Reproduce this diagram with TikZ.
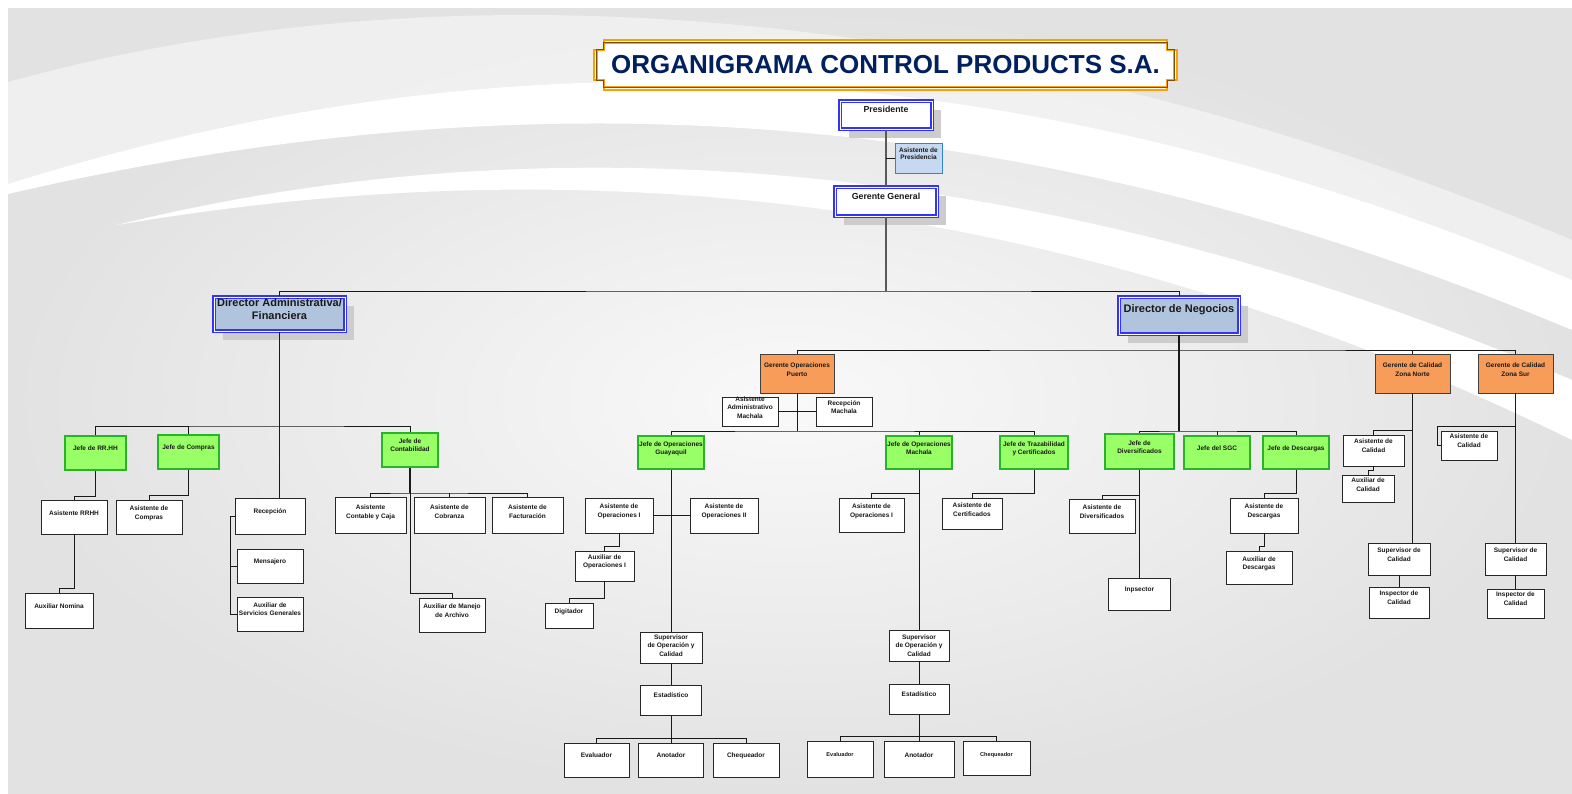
\documentclass[tikz,border=0pt]{standalone}
\usepackage{fontspec}
\setmainfont{Liberation Sans}
\usetikzlibrary{shadows}

\definecolor{navy}{RGB}{0,32,96}
\definecolor{framebrown}{RGB}{120,80,10}
\definecolor{frameorange}{RGB}{255,160,0}
\definecolor{topblue}{RGB}{51,51,255}
\definecolor{dirblue}{RGB}{176,196,222}
\definecolor{shadowgray}{RGB}{204,204,204}
\definecolor{jefegreen}{RGB}{153,255,102}
\definecolor{jefeborder}{RGB}{40,180,40}
\definecolor{gerorange}{RGB}{247,157,89}
\definecolor{asisblue}{RGB}{198,217,240}
\definecolor{asisborder}{RGB}{46,134,206}
\definecolor{bgin}{RGB}{249,249,249}
\definecolor{bgout}{RGB}{226,226,226}

\newcommand\fntbox{\fontsize{6.5}{8.3}\selectfont\bfseries}
\newcommand\fntasis{\fontsize{6.5}{7.4}\selectfont\bfseries}
\newcommand\fntpres{\fontsize{8.8}{10.5}\selectfont\bfseries}
\newcommand\fntdir{\fontsize{11}{13}\selectfont\bfseries}
\newcommand\fntsmall{\fontsize{5.6}{7}\selectfont\bfseries}
\newcommand\fnttitle{\fontsize{26}{30}\selectfont\bfseries}

\tikzset{
  orgbox/.style={rectangle, inner sep=0pt},
  sz/.style 2 args={minimum width=#1, minimum height=#2},
  wbox/.style={orgbox, fill=white, draw=black!85, line width=.8pt},
  gbox/.style={orgbox, fill=jefegreen, draw=jefeborder, line width=1.3pt},
  obox/.style={orgbox, fill=gerorange, draw=black!75, line width=.9pt},
  topbox/.style={orgbox, fill=white, draw=topblue, double=white, double distance=.8pt, line width=1.3pt,
    drop shadow={shadow xshift=9pt, shadow yshift=-9pt, fill=shadowgray, opacity=1}},
  dirbox/.style={topbox, fill=dirblue},
  asisbox/.style={orgbox, fill=asisblue, draw=asisborder, line width=1pt},
  lab/.style={anchor=north, inner sep=0pt, align=center, text=black!90},
  txt/.style 2 args={label={[lab, font=\fntbox, yshift=-#1pt]north:{#2}}},
  txta/.style 2 args={label={[lab, font=\fntasis, yshift=-#1pt]north:{#2}}},
  txtp/.style 2 args={label={[lab, font=\fntpres, yshift=-#1pt]north:{#2}}},
  txtd/.style 2 args={label={[lab, font=\fntdir, yshift=-#1pt]north:{#2}}},
  txts/.style 2 args={label={[lab, font=\fntsmall, yshift=-#1pt]north:{#2}}},
  link/.style={draw=black!90, line width=.9pt},
  thk/.style={draw=black!90, line width=1.8pt},
  gline/.style={draw=black!65, line width=1.6pt},
  frameline/.style={draw=frameorange, line width=1.5pt, preaction={draw=framebrown, line width=2.6pt}}
}

\begin{document}
\begin{tikzpicture}[x=1pt, y=-1pt]
\useasboundingbox (0,0) rectangle (1572,793);
\fill[white] (0,0) rectangle (1572,793);

% background
\begin{scope}
  \clip (8,8) rectangle (1572,793);
  \shade[inner color=bgin, outer color=bgout] (8,8) rectangle (1572,793);
  \fill[white, opacity=.45] (8,82) .. controls (450,-40) and (1000,0) .. (1572,240)
    -- (1572,280) .. controls (1000,40) and (500,30) .. (8,184) -- cycle;
  \fill[white] (8,184) .. controls (500,30) and (1000,40) .. (1572,280)
    -- (1572,330) .. controls (1000,90) and (500,80) .. (8,194) -- cycle;
  \fill[white] (117,225) .. controls (500,130) and (1000,135) .. (1572,380)
    -- (1572,440) .. controls (1000,160) and (500,160) .. (117,225) -- cycle;
\end{scope}

% title
\foreach \d/\n in {0/10,3.5/7}
{
  \filldraw[frameline, fill=white] (594+\d+\n,40+\d) -- (1177-\d-\n,40+\d) -- (1177-\d-\n,40+\d+\n)
    -- (1177-\d,40+\d+\n) -- (1177-\d,90-\d-\n) -- (1177-\d-\n,90-\d-\n) -- (1177-\d-\n,90-\d)
    -- (594+\d+\n,90-\d) -- (594+\d+\n,90-\d-\n) -- (594+\d,90-\d-\n) -- (594+\d,40+\d+\n)
    -- (594+\d+\n,40+\d+\n) -- cycle;
}
\node[font=\fnttitle, text=navy] (title) at (885.5,64.5) {ORGANIGRAMA CONTROL PRODUCTS S.A.};

% top
\node[topbox, sz={92}{28}, txtp={5.9}{Presidente}] (pres) at (886,115) {};
\node[asisbox, sz={47}{30}, txta={5}{Asistente de\\Presidencia}] (apres) at (918.5,158) {};
\node[topbox, sz={102}{29}, txtp={6.5}{Gerente General}] (gg) at (886,201.5) {};
\node[dirbox, sz={131}{34}, txtd={2.4}{Director Administrativa/\\Financiera}] (dadm) at (279.5,314) {};
\node[dirbox, sz={120}{37}, txtd={8}{Director de Negocios}] (dneg) at (1179,315.5) {};

% administrativa
\node[gbox, sz={61}{34}, txt={10}{Jefe de RR.HH}] (jrrhh) at (95.5,453) {};
\node[gbox, sz={61}{34}, txt={10.4}{Jefe de Compras}] (jcomp) at (188.5,452) {};
\node[gbox, sz={56}{34}, txt={6.4}{Jefe de\\Contabilidad}] (jcont) at (410,450) {};
\node[wbox, sz={66}{34}, txt={11}{Asistente RRHH}] (arrh) at (74,517) {};
\node[wbox, sz={66}{34}, txt={6.4}{Asistente de\\Compras}] (acomp) at (149,517) {};
\node[wbox, sz={70}{36}, txt={11.4}{Recepción}] (recep) at (270,516) {};
\node[wbox, sz={66}{34}, txt={10.4}{Mensajero}] (mens) at (270,566) {};
\node[wbox, sz={66}{34}, txt={6}{Auxiliar de\\Servicios Generales}] (asg) at (270,614) {};
\node[wbox, sz={68}{35}, txt={11.4}{Auxiliar Nomina}] (anomina) at (59,610.5) {};
\node[wbox, sz={71}{36}, txt={8.4}{Asistente\\Contable y Caja}] (acc) at (370.5,515) {};
\node[wbox, sz={71}{36}, txt={8.4}{Asistente de\\Cobranza}] (acob) at (449.5,515) {};
\node[wbox, sz={71}{36}, txt={8.4}{Asistente de\\Facturación}] (afact) at (527.5,515) {};
\node[wbox, sz={66}{34}, txt={6.4}{Auxiliar de Manejo\\de Archivo}] (amarch) at (452,615) {};

% operaciones puerto
\node[obox, sz={74}{39}, txt={9.4}{Gerente Operaciones\\Puerto}] (gop) at (797,373.5) {};
\node[wbox, sz={56}{29}, txt={0}{Asistente\\Administrativo\\Machala}] (aadm) at (750,411.5) {};
\node[wbox, sz={56}{29}, txt={4}{Recepción\\Machala}] (recm) at (844,411.5) {};
\node[gbox, sz={66}{33}, txt={6}{Jefe de Operaciones\\Guayaquil}] (jog) at (671,452.5) {};
\node[gbox, sz={66}{33}, txt={6}{Jefe de Operaciones\\Machala}] (jom) at (919,452.5) {};
\node[gbox, sz={68}{33}, txt={6}{Jefe de Trazabilidad\\y Certificados}] (jtc) at (1034,452.5) {};
\node[wbox, sz={68}{35}, txt={6.4}{Asistente de\\Operaciones I}] (aop1g) at (619,515.5) {};
\node[wbox, sz={68}{35}, txt={6.4}{Asistente de\\Operaciones II}] (aop2g) at (724,515.5) {};
\node[wbox, sz={59}{30}, txt={4}{Auxiliar de\\Operaciones I}] (auxop) at (604.5,566) {};
\node[wbox, sz={48}{25}, txt={6.4}{Digitador}] (digit) at (569,615.5) {};
\node[wbox, sz={62}{31}, txt={3}{Supervisor\\de Operación y\\Calidad}] (supg) at (671,647.5) {};
\node[wbox, sz={61}{30}, txt={8.4}{Estadístico}] (estg) at (671,700) {};
\node[wbox, sz={65}{34}, txt={10.4}{Evaluador}] (evg) at (596.5,760) {};
\node[wbox, sz={65}{34}, txt={10.4}{Anotador}] (anog) at (671,760) {};
\node[wbox, sz={66}{34}, txt={10.4}{Chequeador}] (cheqg) at (746,760) {};
\node[wbox, sz={65}{34}, txt={6.4}{Asistente de\\Operaciones I}] (aop1m) at (871.5,515) {};
\node[wbox, sz={60}{31}, txt={5}{Supervisor\\de Operación y\\Calidad}] (supm) at (919,645.5) {};
\node[wbox, sz={60}{30}, txt={8.4}{Estadístico}] (estm) at (919,699) {};
\node[wbox, sz={66}{36}, txts={12}{Evaluador}] (evm) at (840,759) {};
\node[wbox, sz={70}{36}, txt={11.7}{Anotador}] (anotm) at (919,759) {};
\node[wbox, sz={67}{34}, txts={12}{Chequeador}] (cheqm) at (996.5,758) {};
\node[wbox, sz={60}{31}, txt={5.4}{Asistente de\\Certificados}] (acert) at (972,513.5) {};

% negocios
\node[gbox, sz={69}{35}, txt={7.4}{Jefe de\\Diversificados}] (jdiv) at (1139.5,451.5) {};
\node[gbox, sz={66}{33}, txt={10}{Jefe del SGC}] (jsgc) at (1217,452.5) {};
\node[gbox, sz={66}{33}, txt={10.4}{Jefe de Descargas}] (jdesc) at (1296,452.5) {};
\node[wbox, sz={66}{34}, txt={6.4}{Asistente de\\Diversificados}] (adiv) at (1102,516) {};
\node[wbox, sz={62}{32}, txt={9}{Inpsector}] (insp) at (1139.5,594) {};
\node[wbox, sz={68}{35}, txt={6.4}{Asistente de\\Descargas}] (adesc) at (1264,515.5) {};
\node[wbox, sz={66}{33}, txt={6}{Auxiliar de\\Descargas}] (auxdesc) at (1259,567.5) {};

% calidad
\node[obox, sz={75}{39}, txt={9.4}{Gerente de Calidad\\Zona Norte}] (gcn) at (1412.5,373.5) {};
\node[obox, sz={75}{39}, txt={9.4}{Gerente de Calidad\\Zona Sur}] (gcs) at (1515.5,373.5) {};
\node[wbox, sz={61}{31}, txt={4.4}{Asistente de\\Calidad}] (acaln) at (1373.5,450.5) {};
\node[wbox, sz={52}{27}, txt={3.4}{Auxiliar de\\Calidad}] (auxcal) at (1368,488.5) {};
\node[wbox, sz={62}{32}, txt={5.4}{Supervisor de\\Calidad}] (supn) at (1399,559) {};
\node[wbox, sz={60}{31}, txt={4.4}{Inspector de\\Calidad}] (inspn) at (1399,602.5) {};
\node[wbox, sz={56}{29}, txt={3.4}{Asistente de\\Calidad}] (acals) at (1469,445.5) {};
\node[wbox, sz={61}{32}, txt={5.4}{Supervisor de\\Calidad}] (sups) at (1515.5,559) {};
\node[wbox, sz={57}{29}, txt={3.4}{Inspector de\\Calidad}] (insps) at (1515.5,603.5) {};

% lines top
\draw[gline] (pres) -- (gg);
\draw[link] (pres.south |- apres.west) -- (apres.west);
\coordinate (busA) at (886,291);
\draw[gline] (gg.south) -- (busA);
\draw[link] (dadm.north) |- (busA) -| (dneg.north);

% lines administrativa
\coordinate (busB) at (279.5,426);
\draw[link] (dadm.south) -- (dadm.south |- recep.north);
\draw[link] (jrrhh.north) |- (busB) -| (jcont.north);
\draw[link] (jcomp.north) -- (jcomp.north |- busB);
\draw[link] (jrrhh.south) -- ++(0,26) -| (arrh.north);
\draw[link] (jcomp.south) -- ++(0,26) -| (acomp.north);
\draw[link] (arrh.south) -- ++(0,54) -| (anomina.north);
\draw[link] (recep.west) -- ++(-4,0) |- (asg.west);
\draw[link] (mens.west) -- ++(-6,0);
\coordinate (busC) at (410,493);
\draw[thk] (jcont.south) -- (busC);
\draw[link] (acc.north) |- (busC) -| (afact.north);
\draw[link] (acob.north) -- (acob.north |- busC);
\draw[link] (busC) -- ++(0,100) -| (amarch.north);

% lines negocios
\coordinate (busD) at (1179,350);
\draw[link] (gop.north) |- (busD) -| (gcs.north);
\draw[link] (gcn.north) -- (gcn.north |- busD);
\coordinate (busE) at (1179,431);
\draw[thk] (dneg.south) -- (busE);
\draw[link] (jdiv.north) |- (busE) -| (jdesc.north);
\draw[link] (jsgc.north) -- (jsgc.north |- busE);
\draw[link] (jdiv.south) -- (insp.north);
\draw[link] (jdiv.south) ++(0,26) -| (adiv.north);
\draw[link] (jdesc.south) -- ++(0,24) -| (adesc.north);
\draw[link] (adesc.south) -- ++(0,13) -| (auxdesc.north);
\draw[link] (gcn.south) -- (gcn.south |- supn.north);
\draw[link] (gcn.south) ++(0,37) -| (acaln.north);
\draw[link] (acaln.south) -- ++(0,4) -| (auxcal.north);
\draw[link] (supn.south) -- (inspn.north);
\draw[link] (gcs.south) -- (sups.north);
\draw[link] (gcs.south) ++(0,33) -- ++(-78,0) |- (acals.west);
\draw[link] (sups.south) -- (insps.north);

% lines puerto
\coordinate (busF) at (797,431);
\draw[link] (gop.south) -- (busF);
\draw[link] (aadm.east) -- (recm.west);
\draw[link] (jog.north) |- (busF) -| (jtc.north);
\draw[link] (jom.north) -- (jom.north |- busF);
\draw[link] (jog.south) -- (supg.north);
\draw[link] (aop1g.east) -- (aop2g.west);
\draw[link] (aop1g.south) -- ++(0,13) -| (auxop.north);
\draw[link] (auxop.south) -- ++(0,17) -| (digit.north);
\draw[link] (supg.south) -- (estg.north);
\coordinate (busG) at (671,738);
\draw[link] (estg.south) -- (anog.north);
\draw[link] (evg.north) |- (busG) -| (cheqg.north);
\draw[link] (jom.south) -- (supm.north);
\draw[link] (jom.south) ++(0,24) -| (aop1m.north);
\draw[link] (supm.south) -- (estm.north);
\coordinate (busH) at (919,736);
\draw[link] (estm.south) -- (anotm.north);
\draw[link] (evm.north) |- (busH) -| (cheqm.north);
\draw[link] (jtc.south) -- ++(0,24) -| (acert.north);

\end{tikzpicture}
\end{document}
